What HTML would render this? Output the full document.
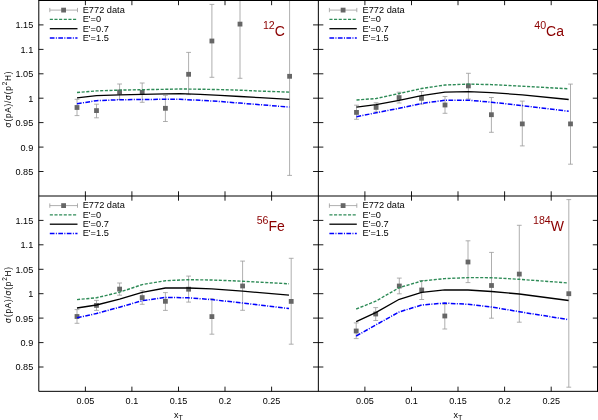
<!DOCTYPE html>
<html><head><meta charset="utf-8"><title>E772 ratios</title>
<style>
html,body{margin:0;padding:0;background:#fff;}
body{width:598px;height:420px;overflow:hidden;position:relative;font-family:"Liberation Sans",sans-serif;}
svg text{font-family:"Liberation Sans",sans-serif;}
</style></head><body>
<svg width="598" height="420" viewBox="0 0 598 420" style="position:absolute;left:0;top:0;will-change:transform">
<rect x="0" y="0" width="598" height="420" fill="#fff"/>
<g>
<path d="M77.0,99.3V115.6M74.6,99.3H79.4M74.6,115.6H79.4" stroke="#9a9a9a" stroke-width="0.8" fill="none"/>
<path d="M96.5,104.2V117.8M94.1,104.2H98.9M94.1,117.8H98.9" stroke="#9a9a9a" stroke-width="0.8" fill="none"/>
<path d="M119.6,84.0V99.4M117.2,84.0H122.0M117.2,99.4H122.0" stroke="#9a9a9a" stroke-width="0.8" fill="none"/>
<path d="M142.2,83.0V102.3M139.8,83.0H144.6M139.8,102.3H144.6" stroke="#9a9a9a" stroke-width="0.8" fill="none"/>
<path d="M165.4,95.3V121.5M163.0,95.3H167.8M163.0,121.5H167.8" stroke="#9a9a9a" stroke-width="0.8" fill="none"/>
<path d="M188.6,52.4V94.6M186.2,52.4H191.0M186.2,94.6H191.0" stroke="#9a9a9a" stroke-width="0.8" fill="none"/>
<path d="M211.9,4.4V77.3M209.5,4.4H214.3M209.5,77.3H214.3" stroke="#9a9a9a" stroke-width="0.8" fill="none"/>
<path d="M240.0,-20.0V78.3M237.6,-20.0H242.4M237.6,78.3H242.4" stroke="#9a9a9a" stroke-width="0.8" fill="none"/>
<path d="M289.6,-20.0V175.4M287.2,-20.0H292.0M287.2,175.4H292.0" stroke="#9a9a9a" stroke-width="0.8" fill="none"/>
<rect x="74.6" y="105.1" width="4.8" height="4.8" fill="#666"/>
<rect x="94.1" y="108.2" width="4.8" height="4.8" fill="#666"/>
<rect x="117.2" y="89.6" width="4.8" height="4.8" fill="#666"/>
<rect x="139.8" y="90.0" width="4.8" height="4.8" fill="#666"/>
<rect x="163.0" y="105.9" width="4.8" height="4.8" fill="#666"/>
<rect x="186.2" y="71.9" width="4.8" height="4.8" fill="#666"/>
<rect x="209.5" y="38.6" width="4.8" height="4.8" fill="#666"/>
<rect x="237.6" y="21.7" width="4.8" height="4.8" fill="#666"/>
<rect x="287.2" y="73.9" width="4.8" height="4.8" fill="#666"/>
<polyline points="77.0,92.5 96.5,90.9 119.6,90.1 142.2,89.7 165.4,89.3 180.0,89.0 200.0,89.2 220.0,89.6 240.0,90.2 260.0,91.1 289.4,92.1" fill="none" stroke="#2e8b57" stroke-width="1.4" stroke-dasharray="3.1 1.55"/>
<polyline points="77.0,97.9 96.5,95.7 119.6,94.9 142.2,94.3 165.4,93.9 180.0,93.7 200.0,94.3 220.0,95.3 240.0,96.5 260.0,97.7 289.4,99.3" fill="none" stroke="#000" stroke-width="1.3" stroke-linejoin="round"/>
<polyline points="77.0,103.7 96.5,100.7 119.6,99.7 142.2,99.5 165.4,99.3 180.0,99.3 200.0,100.3 220.0,101.5 240.0,103.1 260.0,104.7 289.4,107.1" fill="none" stroke="#0000ff" stroke-width="1.5" stroke-dasharray="4.7 1.35 1.0 1.45"/>
<path d="M49.8,10.1H77.5M49.8,7.9V12.2M77.5,7.9V12.2" stroke="#9a9a9a" stroke-width="0.8" fill="none"/>
<rect x="61.2" y="7.7" width="4.8" height="4.8" fill="#666"/>
<path d="M49.8,19.4H77.5" stroke="#2e8b57" stroke-width="1.4" stroke-dasharray="3.1 1.55"/>
<path d="M49.8,28.7H77.5" stroke="#000" stroke-width="1.3"/>
<path d="M49.8,38.0H77.5" stroke="#0000ff" stroke-width="1.5" stroke-dasharray="4.7 1.35 1.0 1.45"/>
<text transform="translate(82.7,12.9) scale(0.935,1)" font-size="9.89" fill="#000">E772 data</text>
<text transform="translate(82.7,22.2) scale(0.935,1)" font-size="9.89" fill="#000">E'=0</text>
<text transform="translate(82.7,31.6) scale(0.935,1)" font-size="9.89" fill="#000">E'=0.7</text>
<text transform="translate(82.7,40.9) scale(0.935,1)" font-size="9.89" fill="#000">E'=1.5</text>
<text transform="translate(284.9,35.9) scale(0.91,1)" text-anchor="end" fill="#8b0000" font-size="15.4"><tspan font-size="11.7" dy="-7.0">12</tspan><tspan dy="7.0">C</tspan></text>
</g>
<g>
<path d="M356.5,105.2V119.3M354.1,105.2H358.9M354.1,119.3H358.9" stroke="#9a9a9a" stroke-width="0.8" fill="none"/>
<path d="M376.1,102.8V112.0M373.7,102.8H378.5M373.7,112.0H378.5" stroke="#9a9a9a" stroke-width="0.8" fill="none"/>
<path d="M399.1,92.2V103.0M396.7,92.2H401.5M396.7,103.0H401.5" stroke="#9a9a9a" stroke-width="0.8" fill="none"/>
<path d="M421.5,91.5V104.1M419.1,91.5H423.9M419.1,104.1H423.9" stroke="#9a9a9a" stroke-width="0.8" fill="none"/>
<path d="M445.0,96.5V113.3M442.6,96.5H447.4M442.6,113.3H447.4" stroke="#9a9a9a" stroke-width="0.8" fill="none"/>
<path d="M468.4,73.3V99.0M466.0,73.3H470.8M466.0,99.0H470.8" stroke="#9a9a9a" stroke-width="0.8" fill="none"/>
<path d="M491.4,97.5V132.3M489.0,97.5H493.8M489.0,132.3H493.8" stroke="#9a9a9a" stroke-width="0.8" fill="none"/>
<path d="M522.3,101.1V145.9M519.9,101.1H524.7M519.9,145.9H524.7" stroke="#9a9a9a" stroke-width="0.8" fill="none"/>
<path d="M570.5,84.1V164.2M568.1,84.1H572.9M568.1,164.2H572.9" stroke="#9a9a9a" stroke-width="0.8" fill="none"/>
<rect x="354.1" y="110.0" width="4.8" height="4.8" fill="#666"/>
<rect x="373.7" y="105.0" width="4.8" height="4.8" fill="#666"/>
<rect x="396.7" y="95.2" width="4.8" height="4.8" fill="#666"/>
<rect x="419.1" y="95.9" width="4.8" height="4.8" fill="#666"/>
<rect x="442.6" y="102.6" width="4.8" height="4.8" fill="#666"/>
<rect x="466.0" y="83.5" width="4.8" height="4.8" fill="#666"/>
<rect x="489.0" y="112.3" width="4.8" height="4.8" fill="#666"/>
<rect x="519.9" y="121.5" width="4.8" height="4.8" fill="#666"/>
<rect x="568.1" y="121.5" width="4.8" height="4.8" fill="#666"/>
<polyline points="356.5,100.0 376.1,98.5 399.1,93.5 421.5,88.5 445.0,85.0 468.4,84.1 491.4,84.6 522.3,86.2 568.7,88.8" fill="none" stroke="#2e8b57" stroke-width="1.4" stroke-dasharray="3.1 1.55"/>
<polyline points="356.5,107.2 376.1,104.6 399.1,100.4 421.5,95.7 445.0,92.2 468.4,91.7 491.4,92.7 522.3,94.8 568.7,99.5" fill="none" stroke="#000" stroke-width="1.3" stroke-linejoin="round"/>
<polyline points="356.5,116.7 376.1,112.8 399.1,108.3 421.5,103.5 445.0,100.2 468.4,100.2 491.4,102.2 522.3,105.6 568.7,111.3" fill="none" stroke="#0000ff" stroke-width="1.5" stroke-dasharray="4.7 1.35 1.0 1.45"/>
<path d="M329.4,10.1H356.8M329.4,7.9V12.2M356.8,7.9V12.2" stroke="#9a9a9a" stroke-width="0.8" fill="none"/>
<rect x="340.7" y="7.7" width="4.8" height="4.8" fill="#666"/>
<path d="M329.4,19.4H356.8" stroke="#2e8b57" stroke-width="1.4" stroke-dasharray="3.1 1.55"/>
<path d="M329.4,28.7H356.8" stroke="#000" stroke-width="1.3"/>
<path d="M329.4,38.0H356.8" stroke="#0000ff" stroke-width="1.5" stroke-dasharray="4.7 1.35 1.0 1.45"/>
<text transform="translate(362.5,12.9) scale(0.935,1)" font-size="9.89" fill="#000">E772 data</text>
<text transform="translate(362.5,22.2) scale(0.935,1)" font-size="9.89" fill="#000">E'=0</text>
<text transform="translate(362.5,31.6) scale(0.935,1)" font-size="9.89" fill="#000">E'=0.7</text>
<text transform="translate(362.5,40.9) scale(0.935,1)" font-size="9.89" fill="#000">E'=1.5</text>
<text transform="translate(564.0,35.9) scale(0.91,1)" text-anchor="end" fill="#8b0000" font-size="15.4"><tspan font-size="11.7" dy="-7.0">40</tspan><tspan dy="7.0">Ca</tspan></text>
</g>
<g>
<path d="M77.0,309.6V323.3M74.6,309.6H79.4M74.6,323.3H79.4" stroke="#9a9a9a" stroke-width="0.8" fill="none"/>
<path d="M96.5,300.4V310.4M94.1,300.4H98.9M94.1,310.4H98.9" stroke="#9a9a9a" stroke-width="0.8" fill="none"/>
<path d="M119.6,283.0V295.2M117.2,283.0H122.0M117.2,295.2H122.0" stroke="#9a9a9a" stroke-width="0.8" fill="none"/>
<path d="M142.2,290.7V304.3M139.8,290.7H144.6M139.8,304.3H144.6" stroke="#9a9a9a" stroke-width="0.8" fill="none"/>
<path d="M165.4,292.6V310.4M163.0,292.6H167.8M163.0,310.4H167.8" stroke="#9a9a9a" stroke-width="0.8" fill="none"/>
<path d="M188.6,276.1V302.1M186.2,276.1H191.0M186.2,302.1H191.0" stroke="#9a9a9a" stroke-width="0.8" fill="none"/>
<path d="M211.9,298.8V334.2M209.5,298.8H214.3M209.5,334.2H214.3" stroke="#9a9a9a" stroke-width="0.8" fill="none"/>
<path d="M242.6,261.1V310.3M240.2,261.1H245.0M240.2,310.3H245.0" stroke="#9a9a9a" stroke-width="0.8" fill="none"/>
<path d="M291.2,258.3V344.2M288.8,258.3H293.6M288.8,344.2H293.6" stroke="#9a9a9a" stroke-width="0.8" fill="none"/>
<rect x="74.6" y="314.1" width="4.8" height="4.8" fill="#666"/>
<rect x="94.1" y="303.0" width="4.8" height="4.8" fill="#666"/>
<rect x="117.2" y="286.7" width="4.8" height="4.8" fill="#666"/>
<rect x="139.8" y="295.2" width="4.8" height="4.8" fill="#666"/>
<rect x="163.0" y="298.9" width="4.8" height="4.8" fill="#666"/>
<rect x="186.2" y="286.8" width="4.8" height="4.8" fill="#666"/>
<rect x="209.5" y="314.2" width="4.8" height="4.8" fill="#666"/>
<rect x="240.2" y="283.6" width="4.8" height="4.8" fill="#666"/>
<rect x="288.8" y="299.0" width="4.8" height="4.8" fill="#666"/>
<polyline points="77.0,299.6 96.5,297.8 119.6,292.2 142.2,284.6 165.4,280.7 188.6,279.7 211.9,280.0 242.6,281.2 289.0,283.8" fill="none" stroke="#2e8b57" stroke-width="1.4" stroke-dasharray="3.1 1.55"/>
<polyline points="77.0,308.0 96.5,305.0 119.6,299.1 142.2,292.4 165.4,288.0 188.6,288.0 211.9,288.9 242.6,291.1 289.0,295.2" fill="none" stroke="#000" stroke-width="1.3" stroke-linejoin="round"/>
<polyline points="77.0,317.8 96.5,313.5 119.6,307.2 142.2,300.7 165.4,297.4 188.6,297.8 211.9,299.6 242.6,303.0 289.0,308.6" fill="none" stroke="#0000ff" stroke-width="1.5" stroke-dasharray="4.7 1.35 1.0 1.45"/>
<path d="M49.8,205.6H77.5M49.8,203.4V207.8M77.5,203.4V207.8" stroke="#9a9a9a" stroke-width="0.8" fill="none"/>
<rect x="61.2" y="203.2" width="4.8" height="4.8" fill="#666"/>
<path d="M49.8,214.9H77.5" stroke="#2e8b57" stroke-width="1.4" stroke-dasharray="3.1 1.55"/>
<path d="M49.8,224.2H77.5" stroke="#000" stroke-width="1.3"/>
<path d="M49.8,233.6H77.5" stroke="#0000ff" stroke-width="1.5" stroke-dasharray="4.7 1.35 1.0 1.45"/>
<text transform="translate(82.7,208.4) scale(0.935,1)" font-size="9.89" fill="#000">E772 data</text>
<text transform="translate(82.7,217.8) scale(0.935,1)" font-size="9.89" fill="#000">E'=0</text>
<text transform="translate(82.7,227.0) scale(0.935,1)" font-size="9.89" fill="#000">E'=0.7</text>
<text transform="translate(82.7,236.4) scale(0.935,1)" font-size="9.89" fill="#000">E'=1.5</text>
<text transform="translate(284.9,231.4) scale(0.91,1)" text-anchor="end" fill="#8b0000" font-size="15.4"><tspan font-size="11.7" dy="-7.0">56</tspan><tspan dy="7.0">Fe</tspan></text>
</g>
<g>
<path d="M356.2,322.9V338.6M353.8,322.9H358.6M353.8,338.6H358.6" stroke="#9a9a9a" stroke-width="0.8" fill="none"/>
<path d="M375.7,307.6V320.5M373.3,307.6H378.1M373.3,320.5H378.1" stroke="#9a9a9a" stroke-width="0.8" fill="none"/>
<path d="M399.3,278.1V293.8M396.9,278.1H401.7M396.9,293.8H401.7" stroke="#9a9a9a" stroke-width="0.8" fill="none"/>
<path d="M421.7,280.5V299.5M419.3,280.5H424.1M419.3,299.5H424.1" stroke="#9a9a9a" stroke-width="0.8" fill="none"/>
<path d="M444.8,304.3V329.0M442.4,304.3H447.2M442.4,329.0H447.2" stroke="#9a9a9a" stroke-width="0.8" fill="none"/>
<path d="M468.0,240.8V282.6M465.6,240.8H470.4M465.6,282.6H470.4" stroke="#9a9a9a" stroke-width="0.8" fill="none"/>
<path d="M491.5,252.4V318.2M489.1,252.4H493.9M489.1,318.2H493.9" stroke="#9a9a9a" stroke-width="0.8" fill="none"/>
<path d="M519.3,225.3V322.2M516.9,225.3H521.7M516.9,322.2H521.7" stroke="#9a9a9a" stroke-width="0.8" fill="none"/>
<path d="M568.8,199.6V387.2M566.4,199.6H571.2M566.4,387.2H571.2" stroke="#9a9a9a" stroke-width="0.8" fill="none"/>
<rect x="353.8" y="328.6" width="4.8" height="4.8" fill="#666"/>
<rect x="373.3" y="311.6" width="4.8" height="4.8" fill="#666"/>
<rect x="396.9" y="283.6" width="4.8" height="4.8" fill="#666"/>
<rect x="419.3" y="287.6" width="4.8" height="4.8" fill="#666"/>
<rect x="442.4" y="313.6" width="4.8" height="4.8" fill="#666"/>
<rect x="465.6" y="259.6" width="4.8" height="4.8" fill="#666"/>
<rect x="489.1" y="283.1" width="4.8" height="4.8" fill="#666"/>
<rect x="516.9" y="271.7" width="4.8" height="4.8" fill="#666"/>
<rect x="566.4" y="291.3" width="4.8" height="4.8" fill="#666"/>
<polyline points="356.2,309.0 375.7,301.2 399.3,287.6 421.7,281.0 444.8,278.6 468.0,277.6 491.5,277.7 519.3,279.3 567.5,282.9" fill="none" stroke="#2e8b57" stroke-width="1.4" stroke-dasharray="3.1 1.55"/>
<polyline points="356.2,321.7 375.7,312.6 399.3,299.3 421.7,292.4 444.8,289.8 468.0,290.0 491.5,291.5 519.3,294.0 568.6,300.5" fill="none" stroke="#000" stroke-width="1.3" stroke-linejoin="round"/>
<polyline points="356.2,336.0 375.7,325.0 399.3,311.9 421.7,305.0 444.8,303.1 468.0,304.3 491.5,307.0 519.3,311.7 568.6,319.7" fill="none" stroke="#0000ff" stroke-width="1.5" stroke-dasharray="4.7 1.35 1.0 1.45"/>
<path d="M329.4,205.6H356.8M329.4,203.4V207.8M356.8,203.4V207.8" stroke="#9a9a9a" stroke-width="0.8" fill="none"/>
<rect x="340.7" y="203.2" width="4.8" height="4.8" fill="#666"/>
<path d="M329.4,214.9H356.8" stroke="#2e8b57" stroke-width="1.4" stroke-dasharray="3.1 1.55"/>
<path d="M329.4,224.2H356.8" stroke="#000" stroke-width="1.3"/>
<path d="M329.4,233.6H356.8" stroke="#0000ff" stroke-width="1.5" stroke-dasharray="4.7 1.35 1.0 1.45"/>
<text transform="translate(362.5,208.4) scale(0.935,1)" font-size="9.89" fill="#000">E772 data</text>
<text transform="translate(362.5,217.8) scale(0.935,1)" font-size="9.89" fill="#000">E'=0</text>
<text transform="translate(362.5,227.0) scale(0.935,1)" font-size="9.89" fill="#000">E'=0.7</text>
<text transform="translate(362.5,236.4) scale(0.935,1)" font-size="9.89" fill="#000">E'=1.5</text>
<text transform="translate(564.0,231.4) scale(0.91,1)" text-anchor="end" fill="#8b0000" font-size="15.4"><tspan font-size="11.7" dy="-7.0">184</tspan><tspan dy="7.0">W</tspan></text>
</g>
<g stroke="#000" stroke-width="1.0" fill="none">
<path d="M38.8,0.5V391.33H598M318.35,0.5V391.33M38.8,196.0H598" stroke-linejoin="miter"/>
<rect x="38.3" y="0" width="598" height="1" fill="#000" stroke="none"/>
<rect x="597" y="0" width="1" height="391.83" fill="#000" stroke="none"/>
<path d="M85.4,0.5v4.7M85.4,191.3v9.4M85.4,391.33v-4.7M131.9,0.5v4.7M131.9,191.3v9.4M131.9,391.33v-4.7M178.5,0.5v4.7M178.5,191.3v9.4M178.5,391.33v-4.7M225.0,0.5v4.7M225.0,191.3v9.4M225.0,391.33v-4.7M271.6,0.5v4.7M271.6,191.3v9.4M271.6,391.33v-4.7M364.9,0.5v4.7M364.9,191.3v9.4M364.9,391.33v-4.7M411.5,0.5v4.7M411.5,191.3v9.4M411.5,391.33v-4.7M458.0,0.5v4.7M458.0,191.3v9.4M458.0,391.33v-4.7M504.6,0.5v4.7M504.6,191.3v9.4M504.6,391.33v-4.7M551.2,0.5v4.7M551.2,191.3v9.4M551.2,391.33v-4.7M38.8,24.9h4.7M313.05,24.9h10.3M597.5,24.9h-4.7M38.8,49.4h4.7M313.05,49.4h10.3M597.5,49.4h-4.7M38.8,73.8h4.7M313.05,73.8h10.3M597.5,73.8h-4.7M38.8,98.2h4.7M313.05,98.2h10.3M597.5,98.2h-4.7M38.8,122.6h4.7M313.05,122.6h10.3M597.5,122.6h-4.7M38.8,147.1h4.7M313.05,147.1h10.3M597.5,147.1h-4.7M38.8,171.5h4.7M313.05,171.5h10.3M597.5,171.5h-4.7M38.8,220.4h4.7M313.05,220.4h10.3M597.5,220.4h-4.7M38.8,244.8h4.7M313.05,244.8h10.3M597.5,244.8h-4.7M38.8,269.3h4.7M313.05,269.3h10.3M597.5,269.3h-4.7M38.8,293.7h4.7M313.05,293.7h10.3M597.5,293.7h-4.7M38.8,318.1h4.7M313.05,318.1h10.3M597.5,318.1h-4.7M38.8,342.6h4.7M313.05,342.6h10.3M597.5,342.6h-4.7M38.8,367.0h4.7M313.05,367.0h10.3M597.5,367.0h-4.7" stroke-width="0.9"/>
</g>
<g font-size="9.63" fill="#000">
<text transform="translate(33.25,28.3) scale(0.935,1)" text-anchor="end" font-size="9.8">1.15</text>
<text transform="translate(33.25,52.8) scale(0.935,1)" text-anchor="end" font-size="9.8">1.1</text>
<text transform="translate(33.25,77.2) scale(0.935,1)" text-anchor="end" font-size="9.8">1.05</text>
<text transform="translate(33.25,101.6) scale(0.935,1)" text-anchor="end" font-size="9.8">1</text>
<text transform="translate(33.25,126.0) scale(0.935,1)" text-anchor="end" font-size="9.8">0.95</text>
<text transform="translate(33.25,150.5) scale(0.935,1)" text-anchor="end" font-size="9.8">0.9</text>
<text transform="translate(33.25,174.9) scale(0.935,1)" text-anchor="end" font-size="9.8">0.85</text>
<text transform="translate(33.25,223.8) scale(0.935,1)" text-anchor="end" font-size="9.8">1.15</text>
<text transform="translate(33.25,248.2) scale(0.935,1)" text-anchor="end" font-size="9.8">1.1</text>
<text transform="translate(33.25,272.7) scale(0.935,1)" text-anchor="end" font-size="9.8">1.05</text>
<text transform="translate(33.25,297.1) scale(0.935,1)" text-anchor="end" font-size="9.8">1</text>
<text transform="translate(33.25,321.5) scale(0.935,1)" text-anchor="end" font-size="9.8">0.95</text>
<text transform="translate(33.25,345.9) scale(0.935,1)" text-anchor="end" font-size="9.8">0.9</text>
<text transform="translate(33.25,370.4) scale(0.935,1)" text-anchor="end" font-size="9.8">0.85</text>
<text transform="translate(85.4,404.2) scale(0.925,1)" text-anchor="middle" font-size="9.8">0.05</text>
<text transform="translate(131.9,404.2) scale(0.925,1)" text-anchor="middle" font-size="9.8">0.1</text>
<text transform="translate(178.5,404.2) scale(0.925,1)" text-anchor="middle" font-size="9.8">0.15</text>
<text transform="translate(225.0,404.2) scale(0.925,1)" text-anchor="middle" font-size="9.8">0.2</text>
<text transform="translate(271.6,404.2) scale(0.925,1)" text-anchor="middle" font-size="9.8">0.25</text>
<text transform="translate(174.1,417.5) scale(0.935,1)" font-size="9.63">x<tspan font-size="7.70" dy="2.2">T</tspan></text>
<text transform="translate(364.9,404.2) scale(0.925,1)" text-anchor="middle" font-size="9.8">0.05</text>
<text transform="translate(411.5,404.2) scale(0.925,1)" text-anchor="middle" font-size="9.8">0.1</text>
<text transform="translate(458.0,404.2) scale(0.925,1)" text-anchor="middle" font-size="9.8">0.15</text>
<text transform="translate(504.6,404.2) scale(0.925,1)" text-anchor="middle" font-size="9.8">0.2</text>
<text transform="translate(551.2,404.2) scale(0.925,1)" text-anchor="middle" font-size="9.8">0.25</text>
<text transform="translate(453.6,417.5) scale(0.935,1)" font-size="9.63">x<tspan font-size="7.70" dy="2.2">T</tspan></text>
<text transform="translate(11.0,99.1) rotate(-90) scale(0.87,1)" text-anchor="middle" font-size="9.4" letter-spacing="0.9">σ(pA)/σ(p<tspan font-size="7.4" dy="-4.4">2</tspan><tspan dy="4.4">H)</tspan></text>
<text transform="translate(11.0,294.6) rotate(-90) scale(0.87,1)" text-anchor="middle" font-size="9.4" letter-spacing="0.9">σ(pA)/σ(p<tspan font-size="7.4" dy="-4.4">2</tspan><tspan dy="4.4">H)</tspan></text>
</g>
</svg>
</body></html>
